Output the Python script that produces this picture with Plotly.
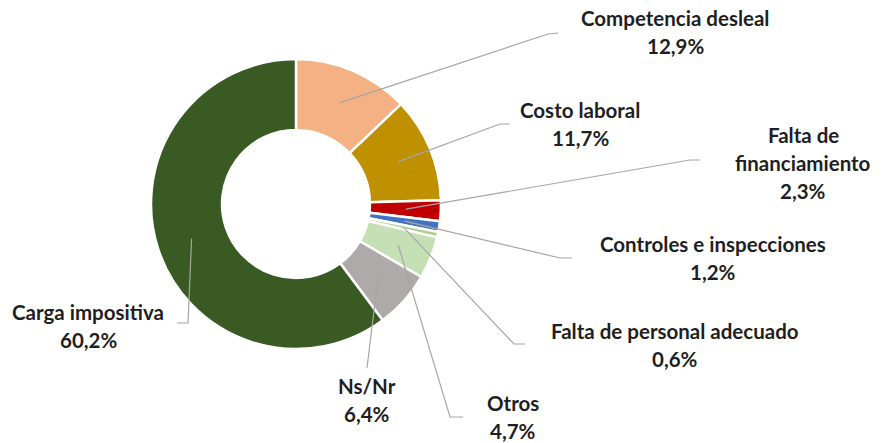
import math
import plotly.graph_objects as go

# ---- data ----
categories = ["Competencia desleal", "Costo laboral", "Falta de financiamiento",
              "Controles e inspecciones", "Falta de personal adecuado", "Otros",
              "Ns/Nr", "Carga impositiva"]
values = [12.9, 11.7, 2.3, 1.2, 0.6, 4.7, 6.4, 60.2]
value_labels = ["12,9%", "11,7%", "2,3%", "1,2%", "0,6%", "4,7%", "6,4%", "60,2%"]
label_lines = [["Competencia desleal"], ["Costo laboral"], ["Falta de", "financiamiento"],
               ["Controles e inspecciones"], ["Falta de personal adecuado"], ["Otros"],
               ["Ns/Nr"], ["Carga impositiva"]]
colors = ["#F4B183", "#BF9000", "#C00000", "#4472C4", "#A9D18E", "#C5E0B4", "#AEAAAA", "#3A5A23"]

# ---- layout (pixels) ----
W, H = 883, 443
CX, CY, R = 296, 204, 145
HOLE = 0.51
R_LEADER = 110
# label centre (x, y of first line), leader elbow and end points
label_pos = [(675, 18), (580, 110), (803, 135), (713, 244), (675, 331), (513, 403), (367, 386), (88, 312)]
leader_pts = [[(548, 34), (558, 33)], [(500, 124), (510, 124)], [(690, 160), (700, 160)],
              [(560, 258), (572, 258)], [(514, 344), (525, 344)], [(450, 417), (463, 417)],
              [(367, 368)], [(188, 323), (177, 323)]]
LINE_GAP = 28

def px(x):
    return x / W

def py(y):
    return 1 - y / H

fig = go.Figure(go.Pie(
    labels=categories, values=values, sort=False, direction="clockwise", rotation=0,
    hole=HOLE, textinfo="none", showlegend=False,
    marker=dict(colors=colors, line=dict(color="white", width=2.5)),
    domain=dict(x=[px(CX - R), px(CX + R)], y=[py(CY + R), py(CY - R)]),
))

total = sum(values)
cum = 0.0
shapes = []
annotations = []
for i, v in enumerate(values):
    mid = (cum + v / 2) / total * 2 * math.pi
    cum += v
    sx = CX + R_LEADER * math.sin(mid)
    sy = CY - R_LEADER * math.cos(mid)
    pts = [(sx, sy)] + leader_pts[i]
    path = "M " + " L ".join(f"{px(x)},{py(y)}" for x, y in pts)
    shapes.append(dict(type="path", path=path, xref="paper", yref="paper",
                       line=dict(color="#A6A6A6", width=1.2)))
    lx, ly = label_pos[i]
    lines = label_lines[i] + [value_labels[i]]
    for j, t in enumerate(lines):
        annotations.append(dict(x=px(lx), y=py(ly + j * LINE_GAP), xref="paper", yref="paper",
                                text="<b>" + t + "</b>", showarrow=False, xanchor="center",
                                yanchor="middle",
                                font=dict(family="Lato", size=20.5, color="#1F1F1F")))

fig.update_layout(width=W, height=H, margin=dict(l=0, r=0, t=0, b=0),
                  paper_bgcolor="white", plot_bgcolor="white",
                  shapes=shapes, annotations=annotations)
fig.write_html("out.html", config={"displayModeBar": False},
               post_script="document.body.style.margin='0';document.body.style.overflow='hidden';")
